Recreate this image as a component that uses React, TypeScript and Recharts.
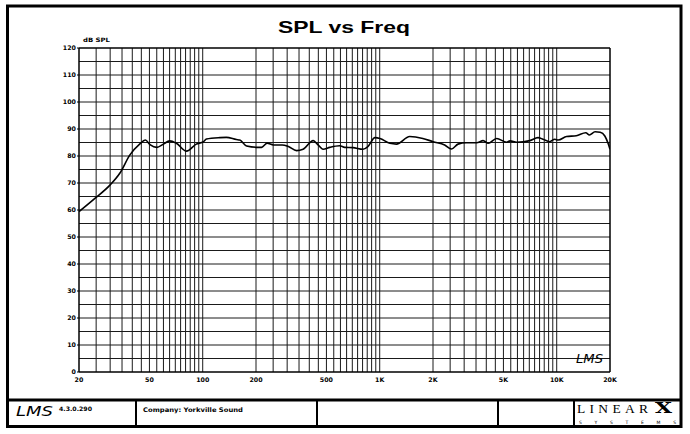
import React from "react";
import { LineChart, Line, XAxis, YAxis, ReferenceLine } from "recharts";

const freqs = [
  20, 24.6, 30, 34, 38.8, 44, 47.4, 50.6, 55, 60, 65, 71, 81, 92, 101, 105, 125, 136, 155, 162, 177, 206,
  215, 231, 251, 281, 305, 339, 369, 421, 440, 479, 522, 594, 634, 706, 804, 857, 940, 1003, 1141, 1243,
  1477, 1752, 2003, 2328, 2544, 2770, 3083, 3532, 3840, 4100, 4580, 5213, 5450, 5940, 7050, 7840, 8370,
  9130, 9750, 10200, 11360, 12900, 14600, 15300, 16470, 17600, 18700, 19500, 20000,
];
const spl = [
  59.4, 64.3, 69.3, 73.6, 80.4, 84.4, 85.9, 84.1, 83.2, 84.4, 85.6, 84.7, 81.8, 84.4, 85.3, 86.3, 86.8, 86.9,
  86.1, 85.9, 83.7, 83.2, 83.2, 84.7, 84.1, 84.1, 83.5, 82.0, 82.5, 85.7, 84.7, 82.5, 83.2, 83.8, 83.2, 83.1,
  82.5, 83.5, 86.8, 86.5, 84.7, 84.4, 87.2, 86.5, 85.3, 84.1, 82.6, 84.4, 84.9, 84.9, 85.7, 84.7, 86.5, 85.1,
  85.6, 85.1, 85.7, 86.8, 86.2, 85.3, 86.2, 85.9, 87.2, 87.5, 88.6, 87.8, 89.0, 88.8, 87.4, 84.7, 82.5,
];

const xTicks = [20, 50, 100, 200, 500, 1000, 2000, 5000, 10000, 20000];
const xTickLabels = ["20", "50", "100", "200", "500", "1K", "2K", "5K", "10K", "20K"];
const yTicks = [0, 10, 20, 30, 40, 50, 60, 70, 80, 90, 100, 110, 120];
const yGrid = [5, 10, 15, 20, 25, 30, 35, 40, 45, 50, 55, 60, 65, 70, 75, 80, 85, 90, 95, 100, 105, 110, 115];
const decades = [10, 100, 1000, 10000];
const multipliers = [2, 2.5, 3, 3.5, 4, 4.5, 5, 5.5, 6, 6.5, 7, 7.5, 8, 8.5, 9, 9.5, 10];

const xGrid: number[] = [];
decades.forEach((d) =>
  multipliers.forEach((m) => {
    const f = d * m;
    if (f > 20 && f < 20000 && !xGrid.includes(f)) xGrid.push(f);
  })
);

const data = freqs.map((f, i) => ({ f, spl: spl[i] }));

const tickFont = {
  fontFamily: "DejaVu Sans",
  fontWeight: "bold" as const,
  fontSize: 6.3,
  fill: "#000",
};

export default function App() {
  return (
    <div
      style={{
        position: "absolute",
        left: 0,
        top: 0,
        width: 690,
        height: 434,
        background: "#fff",
      }}
    >
      <LineChart
        width={690}
        height={434}
        data={data}
        margin={{ top: 48, right: 0, bottom: 0, left: 0 }}
      >
        <XAxis
          dataKey="f"
          type="number"
          scale="log"
          domain={[20, 20000]}
          allowDataOverflow
          ticks={xTicks}
          tickFormatter={(v: number) => xTickLabels[xTicks.indexOf(v)] ?? String(v)}
          height={62}
          tickSize={0}
          tickMargin={6}
          tickLine={false}
          axisLine={false}
          tick={tickFont}
          interval={0}
        />
        <YAxis
          yAxisId="l"
          orientation="left"
          width={79}
          domain={[0, 120]}
          ticks={yTicks}
          tickSize={2}
          tickMargin={1}
          axisLine={false}
          tickLine={{ stroke: "#000" }}
          tick={tickFont}
          interval={0}
        />
        <YAxis
          yAxisId="r"
          orientation="right"
          width={80}
          domain={[0, 120]}
          ticks={yTicks}
          tickSize={2}
          tickMargin={2}
          axisLine={false}
          tickLine={{ stroke: "#000" }}
          tick={tickFont}
          interval={0}
        />
        {yGrid.map((v) => (
          <ReferenceLine key={"h" + v} yAxisId="l" y={v} stroke="#1a1a1a" strokeWidth={1} />
        ))}
        {xGrid.map((f) => (
          <ReferenceLine key={"v" + f} yAxisId="l" x={f} stroke="#1a1a1a" strokeWidth={1} />
        ))}
        <ReferenceLine yAxisId="l" y={0} stroke="#000" strokeWidth={1.5} />
        <ReferenceLine yAxisId="l" y={120} stroke="#000" strokeWidth={1.5} />
        <ReferenceLine yAxisId="l" x={20} stroke="#000" strokeWidth={1.5} />
        <ReferenceLine yAxisId="l" x={20000} stroke="#000" strokeWidth={1.5} />
        <Line
          yAxisId="l"
          dataKey="spl"
          type="monotone"
          stroke="#000"
          strokeWidth={1.6}
          dot={false}
          isAnimationActive={false}
        />
      </LineChart>
      <svg
        width={690}
        height={434}
        style={{ position: "absolute", left: 0, top: 0, pointerEvents: "none" }}
      >
        {/* outer frame */}
        <rect x={7.5} y={6} width={673.5} height={420.5} fill="none" stroke="#000" strokeWidth={3} />
        {/* footer */}
        <line x1={6} y1={400} x2={682} y2={400} stroke="#000" strokeWidth={3} />
        <line x1={136} y1={400} x2={136} y2={427} stroke="#000" strokeWidth={2} />
        <line x1={317} y1={400} x2={317} y2={427} stroke="#000" strokeWidth={2} />
        <line x1={498} y1={400} x2={498} y2={427} stroke="#000" strokeWidth={2} />
        <line x1={574} y1={400} x2={574} y2={427} stroke="#000" strokeWidth={2} />
        {/* title */}
        <text
          x={278}
          y={33.3}
          fontFamily="Liberation Sans"
          fontWeight="bold"
          fontSize={16.5}
          textLength={132}
          lengthAdjust="spacingAndGlyphs"
          fill="#000"
        >
          SPL vs Freq
        </text>
        <text
          x={83}
          y={42}
          fontFamily="DejaVu Sans"
          fontWeight="bold"
          fontSize={6}
          textLength={27}
          lengthAdjust="spacingAndGlyphs"
          fill="#000"
        >
          dB SPL
        </text>
        {/* watermark */}
        <text
          x={576}
          y={363}
          fontFamily="DejaVu Sans"
          fontStyle="italic"
          fontSize={13}
          textLength={27}
          lengthAdjust="spacingAndGlyphs"
          fill="#000"
          stroke="#fff"
          strokeWidth={0}
        >
          LMS
        </text>
        {/* footer texts */}
        <text
          x={16}
          y={416}
          fontFamily="DejaVu Sans"
          fontStyle="italic"
          fontSize={14}
          textLength={37}
          lengthAdjust="spacingAndGlyphs"
          fill="#000"
        >
          LMS
        </text>
        <text
          x={59}
          y={411}
          fontFamily="DejaVu Sans"
          fontWeight="bold"
          fontSize={6}
          textLength={33}
          lengthAdjust="spacingAndGlyphs"
          fill="#000"
        >
          4.3.0.290
        </text>
        <text
          x={143}
          y={412}
          fontFamily="DejaVu Sans"
          fontWeight="bold"
          fontSize={6.3}
          textLength={100}
          lengthAdjust="spacingAndGlyphs"
          fill="#000"
        >
          Company: Yorkville Sound
        </text>
        <text
          x={577}
          y={412.5}
          fontFamily="Liberation Serif"
          fontSize={13.5}
          textLength={71}
          lengthAdjust="spacing"
          fill="#000"
        >
          LINEAR
        </text>
        <text
          x={655}
          y={412.5}
          fontFamily="DejaVu Serif"
          fontWeight="bold"
          fontSize={14}
          textLength={17}
          lengthAdjust="spacingAndGlyphs"
          fill="#000"
        >
          X
        </text>
        <text
          x={579}
          y={424}
          fontFamily="DejaVu Sans"
          fontSize={4.5}
          textLength={97}
          lengthAdjust="spacing"
          fill="#000"
        >
          SYSTEMS
        </text>
      </svg>
    </div>
  );
}
